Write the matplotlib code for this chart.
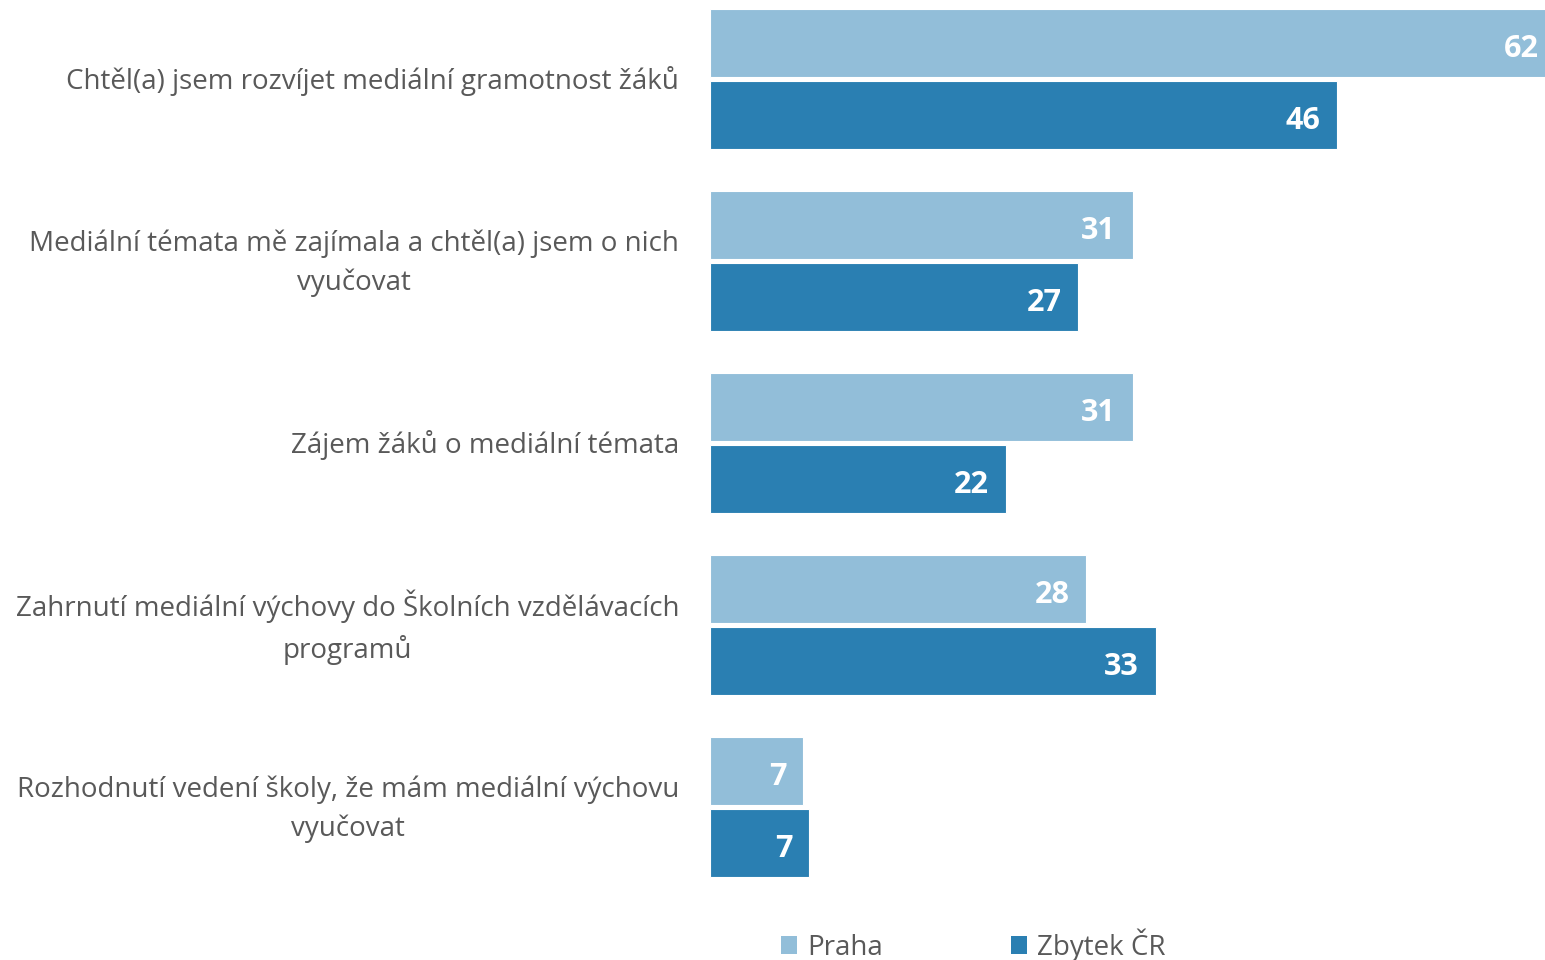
import matplotlib
matplotlib.use("Agg")
import matplotlib.pyplot as plt
from matplotlib.patches import Patch
import numpy as np

categories = [
    "Chtěl(a) jsem rozvíjet mediální gramotnost žáků",
    "Mediální témata mě zajímala a chtěl(a) jsem o nich\nvyučovat",
    "Zájem žáků o mediální témata",
    "Zahrnutí mediální výchovy do Školních vzdělávacích\nprogramů",
    "Rozhodnutí vedení školy, že mám mediální výchovu\nvyučovat",
]
praha = [62, 31, 31, 27.6, 6.85]
zbytek = [46, 27, 21.7, 32.7, 7.3]
series_names = ["Praha", "Zbytek ČR"]
colors = ["#92BED9", "#2A7FB2"]
text_color = "#595959"

plt.rcParams['font.family'] = ['Open Sans', 'DejaVu Sans']

fig = plt.figure(figsize=(15.45, 9.6), dpi=100)
W, H = 1545, 960
ax = fig.add_axes([710 / W, 0, (W - 710) / W, 1])

pitch = 182.0
bar_h = 68 / pitch
gap = 4 / pitch
y = np.arange(len(categories))
y_p = y - (bar_h + gap) / 2
y_z = y + (bar_h + gap) / 2

ax.barh(y_p, praha, height=bar_h, color=colors[0], edgecolor="white", linewidth=0.8)
ax.barh(y_z, zbytek, height=bar_h, color=colors[1], edgecolor="white", linewidth=0.8)

px_per_unit = 13.63
ax.set_xlim(0, (W - 710) / px_per_unit)
ax.set_ylim((960 - 79) / pitch, -79 / pitch)

for ys, vals in ((y_p, praha), (y_z, zbytek)):
    for yy, v in zip(ys, vals):
        ax.annotate(f"{v:.0f}", xy=(v, yy), xytext=(-12, -4), textcoords="offset points",
                    ha="right", va="center", color="white", fontsize=22, fontweight="bold",
                    annotation_clip=False)

ax.set_yticks(y)
ax.set_yticklabels([])
for yy, cat in zip(y, categories):
    ax.annotate(cat, xy=(0, yy), xycoords=("axes fraction", "data"), xytext=(-31 * 0.72, -1.5),
                textcoords="offset points", ha="right", va="center", multialignment="center",
                fontsize=20, color=text_color, linespacing=1.5, annotation_clip=False)

ax.tick_params(left=False, bottom=False, labelbottom=False)
for s in ax.spines.values():
    s.set_visible(False)

handles = [Patch(facecolor=colors[0], label=series_names[0]),
           Patch(facecolor=colors[1], label=series_names[1])]
fig.legend(handles=handles, loc="center", bbox_to_anchor=(973 / W, 1 - 945 / H), ncol=2,
           frameon=False, fontsize=20, labelcolor=text_color, handlelength=0.6,
           handleheight=0.6, handletextpad=0.35, columnspacing=4.6)

fig.savefig("out.png", dpi=100)
